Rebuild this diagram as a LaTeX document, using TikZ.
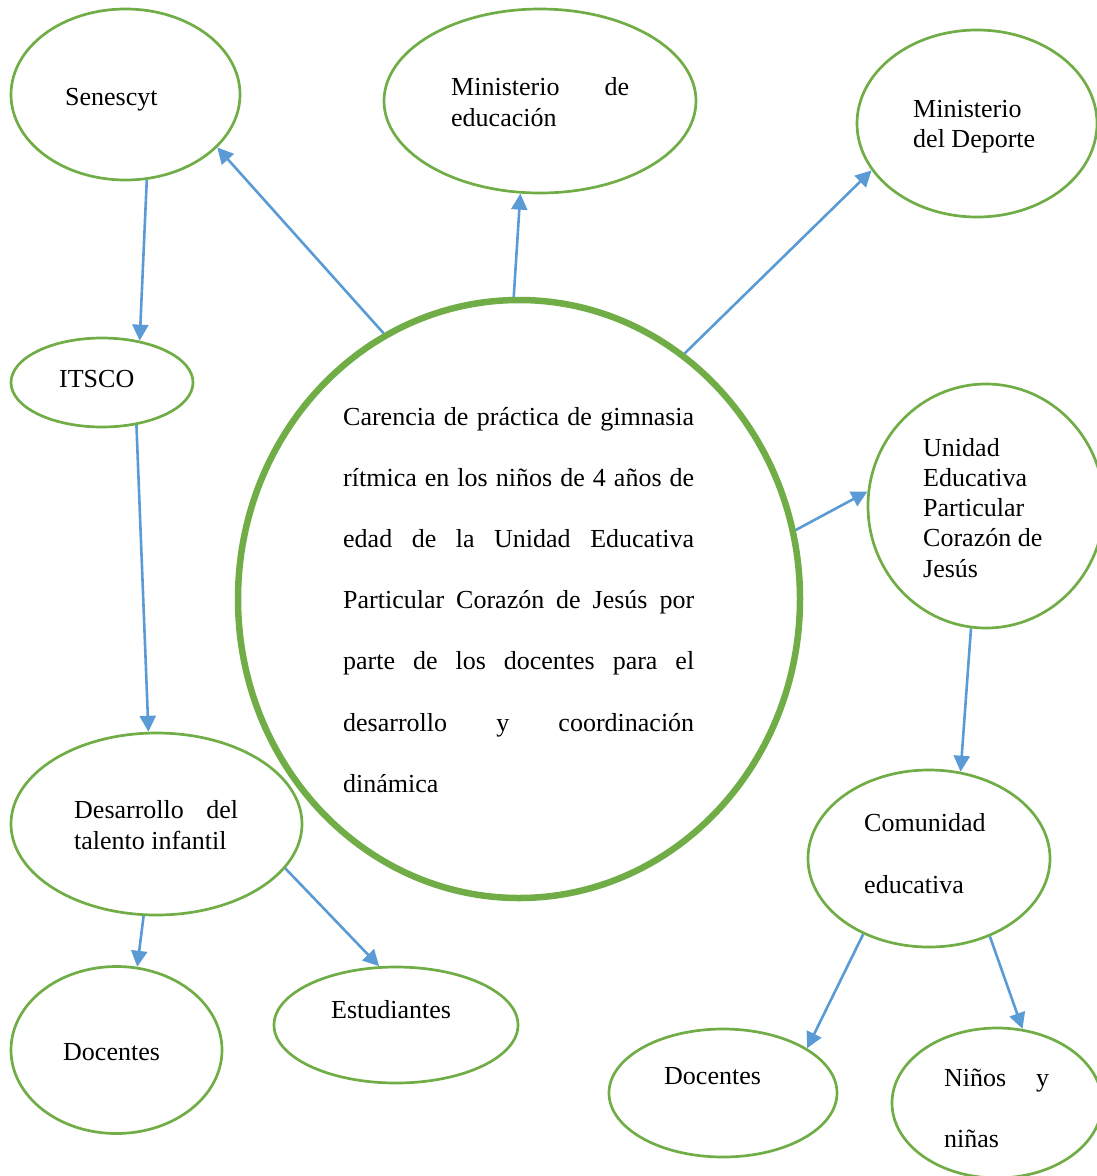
\documentclass[tikz,border=0pt]{standalone}
\usepackage{fontspec}
\setmainfont{Liberation Serif}
\usepackage{tikz}
\usetikzlibrary{arrows.meta,shapes.geometric}
\definecolor{ogreen}{HTML}{70AD47}
\definecolor{oblue}{HTML}{5B9BD5}
\tikzset{font=\fontsize{26}{30.5}\selectfont}
\tikzset{bubble/.style={ellipse,draw=ogreen,line width=2.7pt,inner sep=0pt}}
\tikzset{link/.style={draw=oblue,line width=2.6pt,-{Triangle[length=16pt,width=16pt]}}}
\tikzset{txt/.style={anchor=base west,inner sep=0pt}}
\newcommand{\tlines}[2]{\vtop{\baselineskip=#1\relax#2}}
\newcommand{\jl}[2]{\hbox{\makebox[#1][s]{#2}}}
\newcommand{\pl}[1]{\hbox{#1}}

\begin{document}
\begin{tikzpicture}[x=1pt,y=-1pt]
\useasboundingbox (0,0) rectangle (1097,1176);
% bubbles
\node[bubble,line width=6.5pt,minimum width=562pt,minimum height=598pt] (carencia) at (519,599) {};
\node[bubble,minimum width=229pt,minimum height=171pt] (senescyt) at (125.5,94.5) {};
\node[bubble,minimum width=312pt,minimum height=184pt] (mineduc) at (540,101) {};
\node[bubble,minimum width=240pt,minimum height=187pt] (mindep) at (977,123.5) {};
\node[bubble,minimum width=182pt,minimum height=89pt] (itsco) at (102,382.5) {};
\node[bubble,minimum width=236pt,minimum height=244pt] (unidad) at (986,506) {};
\node[bubble,minimum width=291pt,minimum height=182pt] (talento) at (156.5,824) {};
\node[bubble,minimum width=242pt,minimum height=177pt] (comunidad) at (929,858.5) {};
\node[bubble,minimum width=211pt,minimum height=167pt] (docizq) at (116.5,1050) {};
\node[bubble,minimum width=244pt,minimum height=116pt] (estud) at (396,1025) {};
\node[bubble,minimum width=228pt,minimum height=128pt] (docder) at (723,1093) {};
\node[bubble,minimum width=210pt,minimum height=150pt] (ninos) at (997,1103) {};
% texts
\node[txt] (t-carencia) at (343,425) {\tlines{61.2pt}{%
 \jl{351pt}{Carencia de práctica de gimnasia}
 \jl{351pt}{rítmica en los niños de 4 años de}
 \jl{351pt}{edad de la Unidad Educativa}
 \jl{351pt}{Particular Corazón de Jesús por}
 \jl{351pt}{parte de los docentes para el}
 \jl{351pt}{desarrollo y coordinación}
 \pl{dinámica}}};
\node[txt] (t-senescyt) at (65,105) {Senescyt};
\node[txt] (t-mineduc) at (451,95) {\tlines{31pt}{\jl{178pt}{Ministerio de}\pl{educación}}};
\node[txt] (t-mindep) at (913,117) {\tlines{30.5pt}{\pl{Ministerio}\pl{del Deporte}}};
\node[txt] (t-itsco) at (59,387) {ITSCO};
\node[txt] (t-unidad) at (923,456) {\tlines{30.3pt}{\pl{Unidad}\pl{Educativa}\pl{Particular}\pl{Corazón de}\pl{Jesús}}};
\node[txt] (t-talento) at (74,818) {\tlines{31pt}{\jl{164pt}{Desarrollo del}\pl{talento infantil}}};
\node[txt] (t-comunidad) at (864,831) {\tlines{62pt}{\pl{Comunidad}\pl{educativa}}};
\node[txt] (t-docizq) at (63,1060) {Docentes};
\node[txt] (t-estud) at (331,1018) {Estudiantes};
\node[txt] (t-docder) at (664,1084) {Docentes};
\node[txt] (t-ninos) at (944,1086) {\tlines{61pt}{\jl{105pt}{Niños y}\pl{niñas}}};
% arrows
\draw[link] (carencia.117.5) -- (senescyt.-30.5);
\draw[link] (carencia.91) -- (mineduc.-102);
\draw[link] (carencia.56.9) -- (mindep.-156.5);
\draw[link] (carencia.14.4) -- (unidad.173.4);
\draw[link] (senescyt.-76) -- (itsco.48.8);
\draw[link] (itsco.-51.5) -- (talento.95.6);
\draw[link] (talento.-98) -- (docizq.76);
\draw[link] (talento.-19) -- (estud.106);
\draw[link] (unidad.-97) -- (comunidad.70.8);
\draw[link] (comunidad.-131) -- (docder.28.3);
\draw[link] (comunidad.-52.8) -- (ninos.71.8);
\end{tikzpicture}
\end{document}
